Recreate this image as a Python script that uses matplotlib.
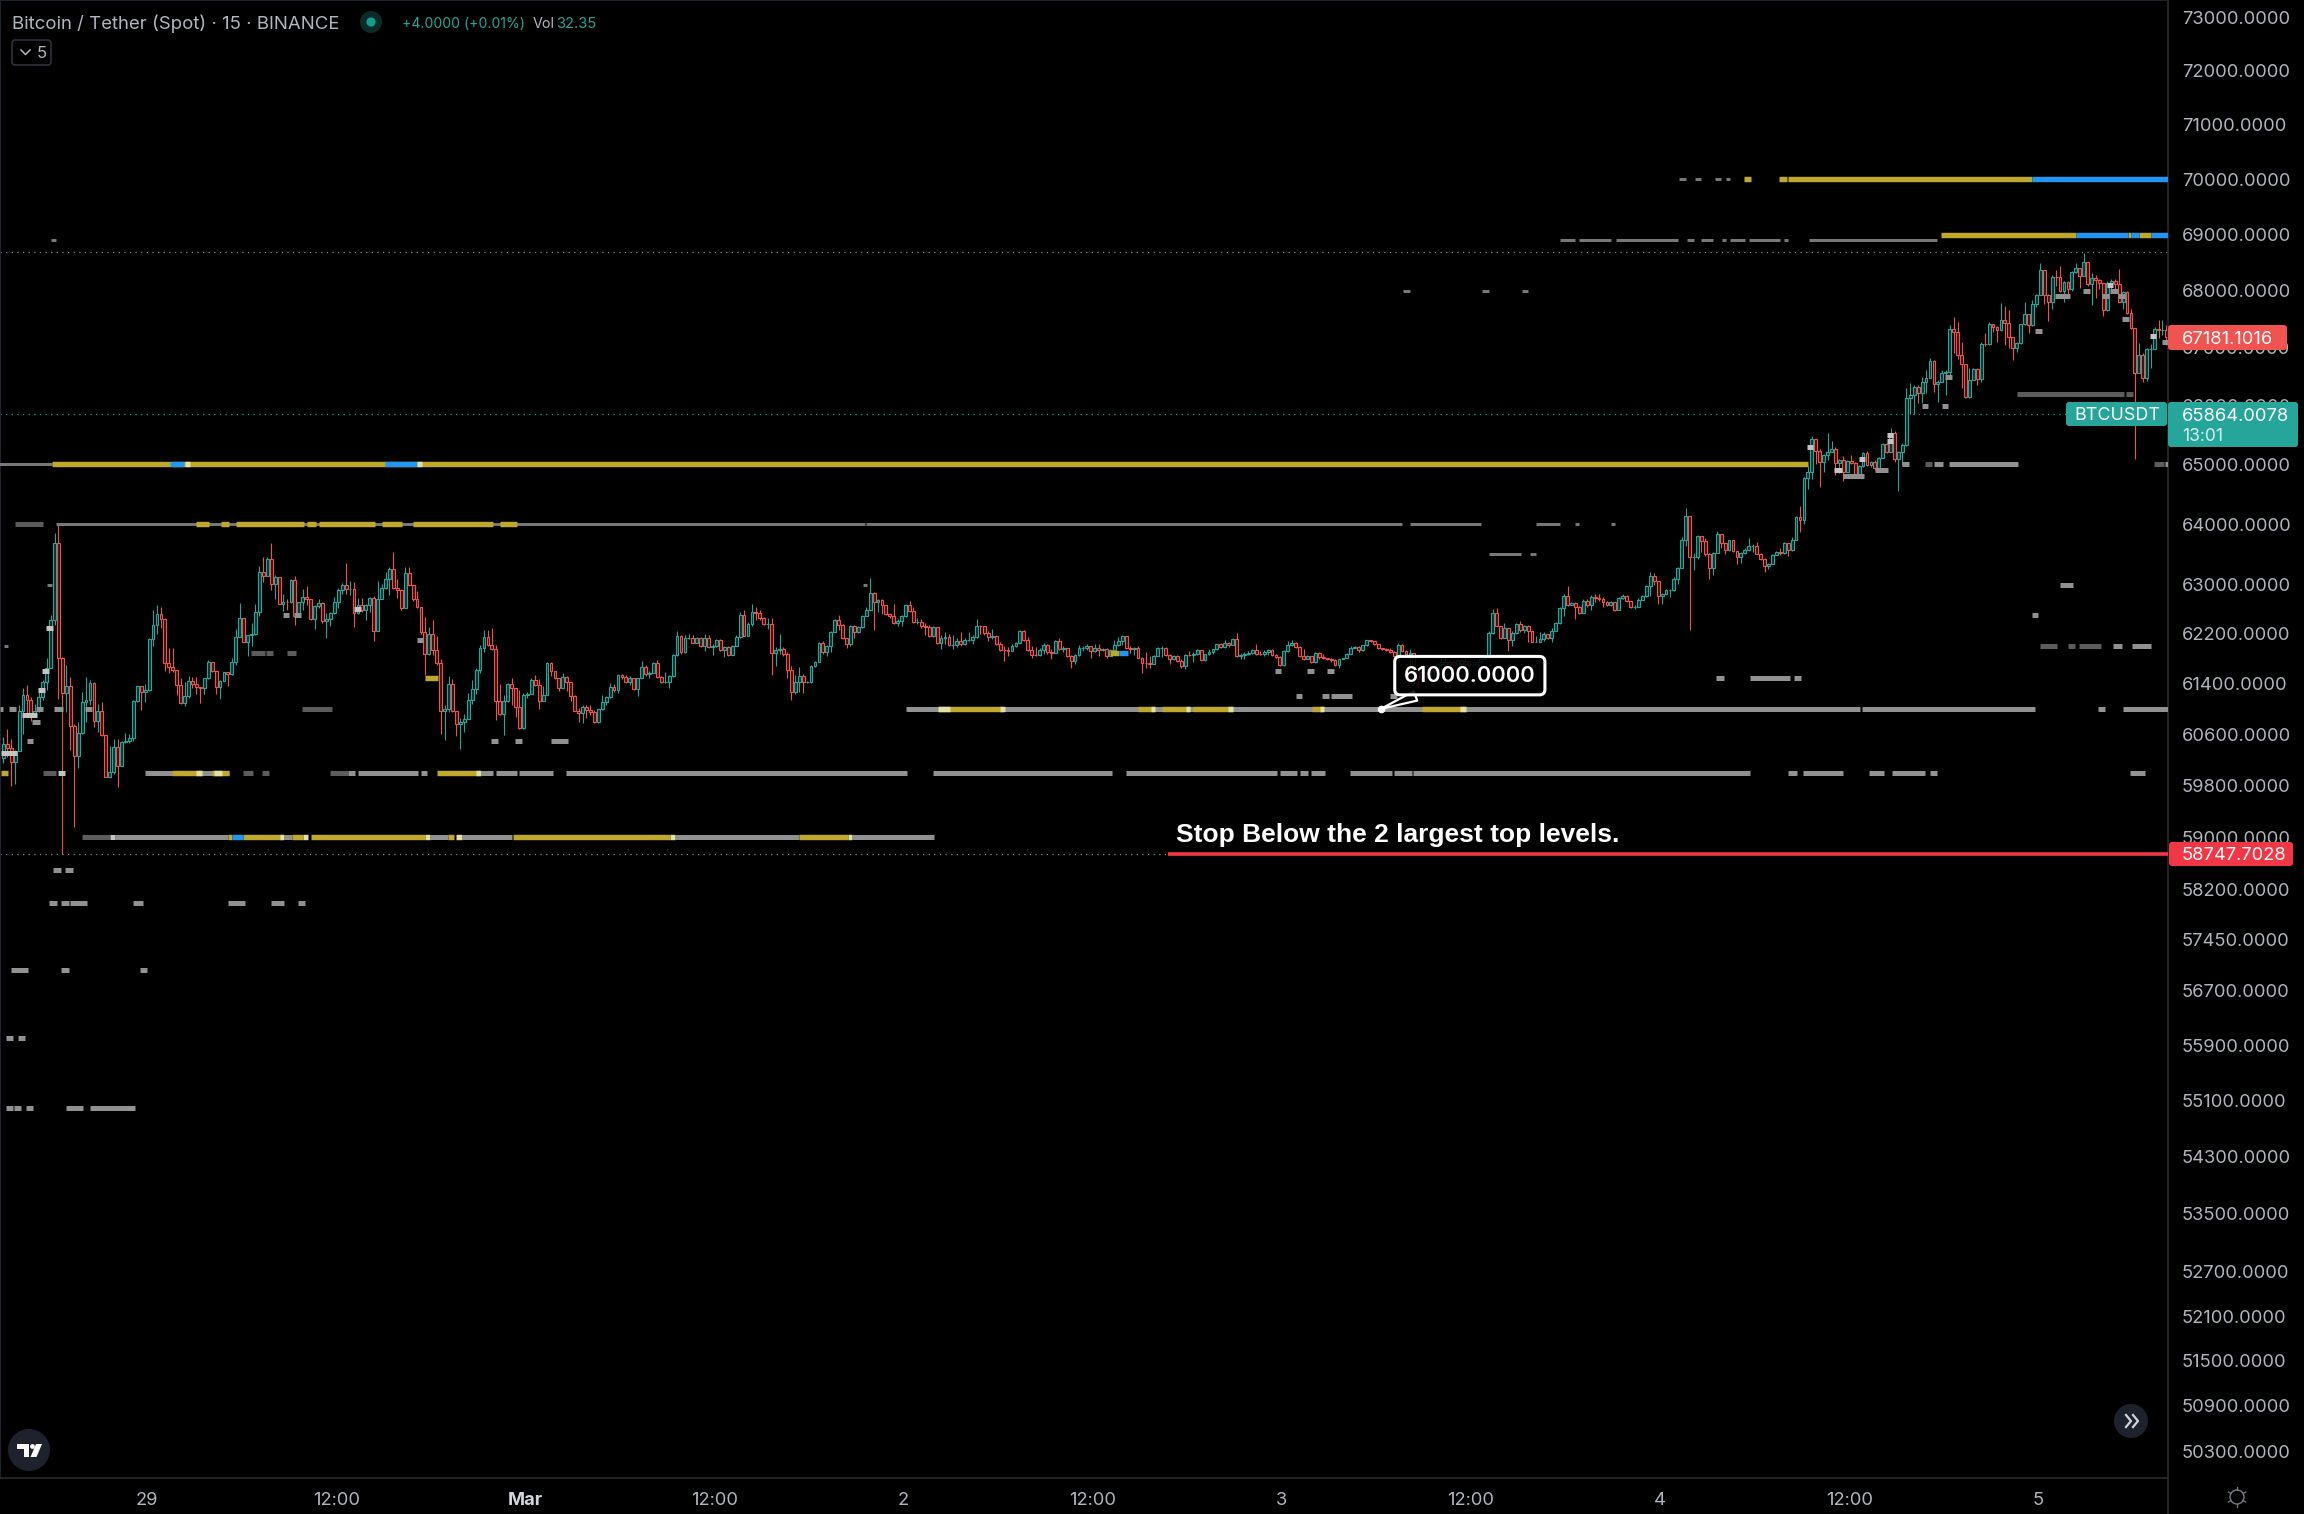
import matplotlib
matplotlib.use("Agg")
import matplotlib.pyplot as plt
from matplotlib.patches import FancyBboxPatch, Circle, Polygon, Rectangle
from matplotlib.lines import Line2D
import numpy as np

W, H = 2304, 1514
first_open = 60225
closes_a = [60440,60385,60170,60330,60975,61218,61137,60885,60975,61191,61422,61647,62426,63688,61819,61255,61368,60735,60251,60616,61110,61137,61406,60804,60960,60584,59929,60010,60402,60101,60482,60493,60547,61127,61363,61272,61298,62115,62346,62528,62442,61733,61669,61626,61379,61100,61202,61443,61400,61341,61325,61486,61755,61610,61352,61443,61583,61551,61744,62158,62464,62077,62184,62195,62550,63205,63151,63430,63017,63124,62678,62721,62711,63081,62496,62711,62797,62764,62437,62652,62705,62415,62442,62533,62711,62909,63001,62925,62936,62533,62668,62587,62668,62786,62249,62775,62947,63097,63258,62952,62909,62614,63189,63001,62775,62641,62238,61878,62195,61948,61728,60975,60992,61395,60975,60761,60799,60842,61148,61315,61621,61970,62158,62023,61959,61121,60923,61121,61390,61336,61030,60692]
highs_a = [60560,60680,60520,60360,61060,61325,61380,61190,61085,61325,61460,61810,62505,63860,63985,61835,61700,61515,60760,60790,61270,61515,61460,61435,61085,61110,60585,60410,60520,60520,60495,60615,60600,61135,61380,61365,61390,62130,62590,62670,62630,62455,61980,61970,61625,61485,61435,61525,61515,61515,61340,61500,61780,61755,61610,61460,61595,61585,61810,62280,62695,62465,62185,62370,62680,63300,63460,63455,63690,63160,63125,62855,62775,63095,63140,62710,62935,62980,62765,62670,62775,62720,62535,62560,62800,62945,63035,63350,63055,63045,62785,62785,62685,62800,62820,63055,63015,63205,63285,63540,63095,62935,63285,63295,63000,62895,62640,62480,62320,62425,62160,61800,61055,61525,61475,60975,60850,60920,61260,61460,61660,62025,62265,62265,62300,62025,61390,61215,61420,61500,61335,61300]
lows_a = [60145,60250,59795,59820,60360,60600,60895,60815,60870,60950,61135,61300,61675,62345,61165,58748,60950,60360,59150,60065,60600,60790,61055,60710,60630,60575,59930,59920,59985,59780,60100,60465,60465,60495,61110,60985,61110,61290,62000,62195,62290,61605,61565,61595,61215,61085,61040,61175,61325,61245,61100,61245,61475,61595,61245,61165,61445,61370,61540,61700,62160,62075,61845,62000,62185,62495,63045,63150,62910,62765,62680,62570,62590,62695,62345,62480,62590,62670,62425,62280,62615,62370,62140,62335,62515,62615,62855,62855,62830,62320,62515,62560,62425,62560,62090,62240,62765,62935,62840,62935,62785,62590,62615,62980,62730,62625,62195,61540,61860,61860,61700,60600,60510,60950,60950,60575,60370,60630,60840,61085,61245,61565,61915,62000,61945,60830,60905,60585,61110,61055,60870,60680]
closes_b = [61217,61244,61464,61378,61131,61228,61732,61598,61491,61340,61507,61421,61206,60970,60938,61029,60981,60948,60793,61002,61110,61185,61356,61297,61539,61507,61421,61485,61314,61485,61673,61555,61566,61732,61501,61421,61432,61518,61861,62162,61915,62130,62140,62055,62135,62001,62135,61985,62001,62103,61947,61995,61867,62001,62146,62506,62173,62361,62549,62538,62452,62361,62361,61893,61947,61958,61883,61625,61271,61432,61528,61421,61432,61679,61754,62049,61904,62012,62237,62425,62345,62130,62038,62334,62226,62307,62495,62592,62860,62726,62753,62667,62522,62495,62377,62414,62484,62667,62565,62388,62388,62323,62307,62173,62318,62049,62135,62157,62028,62028,62081,62038,62103,62108,62146,62334,62323,62216,62157,62173,62038,61947,61942,61931,62012,62055,62253,62108,61947,61867,61861,61947]
highs_b = [61260,61270,61500,61540,61475,61370,61755,61755,61610,61500,61565,61520,61430,61215,61020,61055,61055,61070,60980,61000,61220,61205,61410,61395,61555,61555,61540,61520,61500,61500,61770,61700,61610,61745,61785,61530,61595,61540,61880,62255,62175,62175,62200,62175,62145,62145,62200,62175,62040,62120,62120,62010,62010,62020,62175,62550,62585,62390,62680,62630,62590,62480,62450,62460,61985,62200,61985,61905,61680,61540,61665,61555,61450,61700,61770,62065,62090,62020,62255,62440,62505,62360,62140,62345,62345,62325,62505,62630,63110,62885,62775,62765,62665,62540,62680,62440,62505,62680,62735,62630,62450,62440,62370,62350,62335,62320,62175,62225,62200,62175,62130,62225,62130,62225,62175,62440,62345,62325,62255,62280,62185,62065,62010,61985,62030,62065,62265,62265,62155,62010,61985,61970]
lows_b = [60680,61180,61235,61370,61005,61120,61215,61530,61475,61285,61325,61285,61125,60965,60800,60785,60855,60910,60775,60785,60990,61070,61175,61270,61250,61475,61405,61385,61305,61205,61485,61530,61485,61565,61485,61405,61410,61330,61510,61850,61880,61895,62120,62050,62055,61985,61930,61975,61865,61985,61930,61835,61850,61865,62000,62135,62160,62215,62335,62425,62425,62345,62280,61540,61680,61880,61850,61500,61140,61245,61270,61260,61410,61420,61675,61755,61880,61840,61915,62225,62270,62120,61975,62010,62135,62210,62300,62485,62580,62270,62560,62520,62505,62450,62360,62335,62325,62470,62550,62375,62355,62290,62185,62150,62145,62040,61960,62040,62010,61960,61985,62000,62020,62090,62040,62135,62200,62175,62090,62120,62020,61930,61770,61840,61920,61985,62050,62090,61930,61810,61840,61850]
closes_c = [62015,61908,61897,62079,61961,61972,61843,61768,61865,61972,61972,62004,61918,61972,61940,61961,61838,61934,62015,62079,62165,61972,61950,61972,61816,61736,61730,61720,61843,61972,61972,61865,61789,61843,61757,61682,61865,61854,61881,61945,61773,61870,61908,61950,62031,61988,62058,62026,62122,61838,61865,61881,61897,61934,61881,61870,61908,61940,61865,61827,61693,61918,62026,62058,61993,61838,61789,61838,61746,61897,61822,61811,61800,61773,61703,61789,61811,61881,61977,61988,61945,62015,62106,62085,62042,61972,61961,61945,61908,61843,62015,61918,61881,61897,61639,61478,61585,61532,61639,61612,61720,61746,61693,61746,61720,61773,61720,61757,61693,61703,61746,61800,61838]
highs_c = [62060,62040,61960,62095,62140,62005,61970,61865,61880,62025,62000,62040,62005,62040,62040,61970,61970,61960,62095,62150,62185,62080,62005,61990,62005,61825,61905,61845,61855,61990,62000,61990,61880,61865,61865,61790,61880,61920,61905,61960,61945,61880,61960,61960,62040,62060,62095,62070,62135,62215,61890,61905,61920,61950,62040,61925,61935,61960,61960,61880,61845,61935,62080,62095,62070,62005,61960,61865,61845,61905,61905,61875,61820,61810,61800,61800,61820,61890,62005,62005,62005,62025,62110,62110,62085,62040,61980,61970,61970,61920,62060,62040,61945,61960,61895,61640,61640,61585,61665,61690,61745,61845,61865,61775,61775,61800,61790,61800,61775,61745,61770,61810,61855]
lows_c = [61880,61880,61790,61905,61945,61905,61825,61660,61720,61845,61925,61945,61815,61905,61845,61920,61820,61840,61920,62005,62025,61960,61895,61865,61810,61575,61655,61655,61720,61845,61825,61845,61720,61775,61745,61660,61640,61840,61755,61865,61760,61760,61865,61880,61945,61975,61975,61990,62015,61825,61790,61800,61865,61880,61865,61855,61845,61855,61845,61815,61680,61690,61905,62005,61970,61825,61775,61790,61730,61730,61800,61800,61775,61755,61680,61660,61790,61810,61880,61970,61905,61930,62005,62070,62025,61960,61935,61920,61895,61810,61825,61905,61865,61665,61400,61330,61425,61415,61480,61530,61585,61640,61640,61665,61640,61665,61640,61665,61665,61665,61680,61735,61790]
closes_d = [62214,62547,62336,62142,62297,62103,62208,62364,62269,62325,62242,62075,62075,62119,62203,62130,62253,62369,62619,62824,62674,62697,62641,62541,62741,62674,62797,62785,62769,62713,62669,62713,62591,62780,62808,62741,62630,62641,62758,62808,62980,63141,63063,62813,62841,62908,62908,63102,63279,63740,64128,63451,63451,63807,63712,63507,63268,63529,63834,63685,63574,63729,63562,63451,63518,63574,63629,63629,63507,63418,63313,63340,63490,63535,63518,63685,63574,63740,64117,64073,64778,64878,65433,65227,65044,65155,65211,65266,65028,65083,64878,65061,65028,64822,64972,65200,64989,65044,64933,65116,65350,65211,65527,65100,65211,65322]
highs_d = [62240,62600,62615,62335,62380,62295,62240,62380,62410,62340,62340,62240,62160,62225,62225,62200,62295,62390,62630,62850,62975,62725,62715,62660,62770,62770,62840,62850,62850,62795,62740,62740,62715,62795,62850,62825,62740,62675,62780,62825,62990,63215,63195,63065,62865,62935,62935,63120,63295,63785,64265,64130,63520,63825,63805,63770,63520,63545,63880,63835,63685,63740,63740,63560,63545,63600,63770,63675,63695,63520,63435,63350,63500,63555,63600,63695,63685,63785,64130,64295,64795,64970,65490,65433,65265,65183,65527,65405,65294,65100,65140,65072,65155,65044,64989,65211,65227,65055,65083,65127,65360,65360,65616,65560,65227,65360]
lows_d = [61786,62197,62325,62120,62142,61920,62008,62203,62230,62214,62075,62064,62064,62075,62086,62120,62064,62242,62364,62491,62658,62669,62436,62519,62541,62641,62586,62713,62741,62630,62647,62658,62575,62591,62769,62724,62613,62602,62641,62758,62796,62813,62991,62685,62685,62841,62796,62896,63018,63268,63629,62269,63240,63418,63546,63474,63091,63157,63518,63601,63501,63562,63546,63340,63352,63507,63562,63535,63501,63407,63202,63252,63335,63490,63490,63507,63479,63562,63729,63862,64006,64589,64750,65005,64628,64878,65072,65227,64822,64850,64728,64950,65005,64806,64822,64961,64972,64961,64905,64894,65111,65194,65239,65044,64545,64989]
closes_e = [66135,66181,66325,66210,66412,66470,66775,66371,66412,66556,66585,67335,67277,66874,66712,66152,66441,66631,66458,67064,67058,67410,67364,67306,67479,67439,67179,66989,67075,67410,67583,67393,67768,67924,68362,67929,67808,68247,68241,68000,68160,68027,68333,68403,68258,68501,68126,68229,68189,68131,67652,68143,68172,68114,67808,67981,67612,67347,66568,66874,66481,66977,66977,67324,67306,67306,67181]
highs_e = [66296,66395,66354,66354,66500,66614,66816,66787,66441,66614,66614,67393,67537,67450,67093,66712,66643,66643,66643,67093,67266,67450,67422,67381,67785,67727,67652,67179,67093,67422,67808,67595,67843,67941,68489,68374,67941,68270,68374,68431,68172,68172,68345,68489,68403,68674,68501,68316,68287,68200,68143,68172,68200,68200,68385,68000,68000,67670,67347,67075,66902,66989,67058,67364,67479,67479,67404]
lows_e = [65304,65864,65864,66037,66037,66210,66470,66239,66054,66400,66181,66516,66902,66804,66296,66135,66123,66441,66354,66400,67035,67047,67277,67104,67289,67047,66989,66787,66931,67058,67393,67266,67381,67710,67924,67768,67462,67681,68085,67981,67797,67883,68000,68316,68056,68258,68085,67756,67866,68027,67554,67635,68027,68000,67797,67681,67595,67324,65096,66556,66400,66423,66643,66977,67162,67219,67047]

# (price, first bar, last bar)
thin_grey = [(64000,13.4,218.7),(64000,219,355),(64000,357,375),(64000,389,395),(64000,399,400),(64000,408,409),
 (65000,-1,12.4),(70000,425.3,427),(70000,429.3,431),(70000,434.4,436),(70000,437.2,438.2),
 (68900,12,13.4),(68900,395,398.9),(68900,400,408),(68900,409.3,425),(68900,427.3,429),(68900,431,433.9),(68900,436.2,437.2),(68900,438.2,442),(68900,443,450.9),(68900,452,453),(68900,458.3,490.8),
 (68000,355.2,357),(68000,375.3,377),(68000,385.4,387),(63500,377.1,385.2),(63500,387.5,389),(63000,218.2,219.2),(63000,11.1,12.4),(62000,0.2,1.2)]
dark_grey = [(64000,3,10),(66200,511,538.2),(66200,538.7,540.5),(65000,487.7,489.5),(65000,545.8,548.4),
 (61000,75.8,83.4),(60000,10,13.4),(60000,60.8,63.4),(60000,65.6,67.4),(60000,83,87.5),(59000,20,27),
 (61900,62.9,66.4),(61900,66.7,68.4),(61900,72,74.3),(62000,517,521.2),(62000,524,525.8),(62000,526.8,532.4)]
block_grey = [(65000,481.9,483.6),(65000,490,492.3),(65000,493.8,511.3),(65000,548.6,550),
 (61000,229,471.2),(61000,471.7,515.6),(61000,531.6,533.4),(61000,538,550),
 (61000,-0.8,0),(61000,1.4,3.2),(61000,8.3,10),(61000,12.8,15.1),(61000,20.7,22.5),
 (60000,36,57.3),(60000,87.5,89.2),(60000,90,105.2),(60000,106,107.5),(60000,121.2,124.3),(60000,125,130.4),(60000,130.9,139.5),(60000,142.8,229.3),(60000,236,281.4),(60000,284.9,323.3),(60000,324,328.3),(60000,329,331.1),(60000,331.9,335.4),(60000,341.8,352.4),(60000,353,357.5),(60000,357.8,443.3),(60000,452.9,455.2),(60000,456.7,466.9),(60000,473.5,477.3),(60000,479.3,487.7),(60000,489,490.8),(60000,539.7,543.6),
 (59000,28.3,57),(59000,71.2,73.3),(59000,108.3,112.9),(59000,116.4,129),(59000,170.5,201.9),(59000,215.4,236.2),
 (58500,12.6,14.6),(58500,15.6,17.7),(58000,11.6,13.6),(58000,14.6,16.7),(58000,17,21.2),(58000,32.9,35.4),(58000,57,61.3),(58000,68,71.2),(58000,74.8,76.5),
 (57000,2,6.3),(57000,14.6,16.7),(57000,34.7,36.5),(56000,0.7,2.5),(56000,3.7,5.5),(55000,0.7,2.5),(55000,2.7,4.5),(55000,5.8,7.5),(55000,15.9,20.2),(55000,22,33.4),
 (62500,71,72.5),(62500,73.8,75.5),(62100,105,106.5),(60500,6,7.5),(60500,123.8,125.5),(60500,129.9,131.6),(60500,139,143.3),(60800,7.3,9.3),
 (61600,322.7,324.4),(61600,330.9,332.6),(61600,335.9,337.7),(61200,328,329.7),(61200,334.7,336.5),(61200,337,342.3),(61200,352,353.7),(61200,356.8,358.5),
 (61500,434.7,436.7),(61500,443.3,453.5),(61500,454.5,456.3),(64800,467,472.2),(64900,475,478.3),(66000,487,488.5),(66000,492,493.6),(66500,492.8,494.6),
 (67300,515.6,517.4),(67900,520.7,524.5),(68000,527.8,529.6),(67900,532.7,534.4),(68000,534.8,536.6),(67900,536.7,538.4),(67500,537.7,539.5),(67100,548,550),
 (63000,522,525.3),(62500,514.9,516.4),(62000,535.4,537.7),(62000,540.2,545)]
pale_level = [(65000,46,47.4),(65000,105,106.2),(61000,237.2,240.3),(61000,253,254.2),(61000,291.3,292.3),(61000,300.2,301.2),(61000,310.7,312),(61000,334.2,335.2),(61000,369.7,371.2),
 (60000,49,50.4),(60000,53.5,55.5),(60000,120,121.2),(59000,70.2,71.2),(59000,76,77.3),(59000,107,108.3),(59000,115,116.4),(59000,169.2,170.5),(59000,214.4,215.4)]
pale_marker = [(60000,13.9,15.6),(59000,27,28.3),(60300,-0.6,3.5),(60900,4.7,8.5),(61300,8.8,10.6),(61600,9.8,11.6),(62300,10.8,12.6),(62600,89,90.8),(65300,457.8,459.3),(64900,464.6,466.7),(65100,471,472.5),(65500,478.1,479.6),(65400,478.1,479.6),(68100,534,535.5),(67200,544.8,546.3)]
yellow = [(64000,49,52.2),(64000,55.2,57.3),(64000,59,76.3),(64000,77,79.3),(64000,80,94.3),(64000,96,101.2),(64000,104,124.3),(64000,126,130.4),
 (65000,12.4,458),(70000,441.8,443.6),(70000,450.7,452.7),(70000,452.9,514.9),(69000,491.8,526),(69000,539.3,540),(69000,542,545),
 (61000,237.2,253.7),(61000,288,292.3),(61000,294,301.2),(61000,302,312),(61000,332.1,335.2),(61000,360,371.2),
 (60000,-0.6,1.2),(60000,42.8,50.4),(60000,53,57.3),(60000,110,121),
 (59000,57,58),(59000,60.8,70.7),(59000,73.3,76),(59000,78,107),(59000,112.9,114.4),(59000,129.3,169.2),(59000,201.9,214.4),
 (61500,107,110.3),(61900,280.9,283.2)]
blue = [(65000,42.3,45.8),(65000,96.8,105),(70000,514.9,550),(69000,526,539.3),(69000,540,542),(69000,545,550),(59000,58,60.8),(61900,283.2,285.5)]
price_ticks = [73000,72000,71000,70000,69000,68000,67000,66000,65000,64000,63000,62200,61400,60600,59800,59000,58200,57450,56700,55900,55100,54300,53500,52700,52100,51500,50900,50300]
time_ticks = [36.5,84.5,132.5,180.5,228.5,276.5,324.5,372.5,420.5,468.5,516.5]
time_labels = ["29","12:00","Mar","12:00","2","12:00","3","12:00","4","12:00","5"]
stop_price = 58747.7028
last_price = 67181.1016
spot_price = 65864.0078
high_line = 68680
stop_start = 295.6
level_callout = 61000
callout_bar = 349.6

closes = closes_a+closes_b+closes_c+closes_d+closes_e
highs = highs_a+highs_b+highs_c+highs_d+highs_e
lows = lows_a+lows_b+lows_c+lows_d+lows_e
c = np.array(closes, float)
o = np.r_[first_open, c[:-1]]
h = np.maximum.reduce([np.array(highs, float), o, c])
l = np.minimum.reduce([np.array(lows, float), o, c])
x = np.arange(len(c))

plt.rcParams['font.family'] = ['Inter', 'DejaVu Sans']
BG = '#000000'
GREEN, RED = '#26a69a', '#ef5350'
TXT = '#b2b5be'
fig = plt.figure(figsize=(W/100, H/100), dpi=100, facecolor=BG)
ax = fig.add_axes([0, 1-1478/H, 2168/W, 1478/H], facecolor=BG)
ax.set_yscale('log')
ax.set_xlim(-0.845, 549.4)
ax.set_ylim(49954, 73334)

up = c >= o
cols = np.where(up, GREEN, RED)
ax.vlines(x, l, h, colors=cols, linewidth=0.8, zorder=2)
fills = np.where(up, '#06302c', '#3a0f10')
ax.bar(x, np.maximum(np.abs(c-o), 1), bottom=np.minimum(o, c), width=0.72, color=fills, edgecolor=cols, linewidth=0.8, zorder=2.2)

def draw(segs, color, px, z=3, alpha=1):
    for p, s, e in segs:
        ax.plot([s, e], [p, p], color=color, lw=px*0.72, solid_capstyle='butt', zorder=z, alpha=alpha)

draw(thin_grey, '#777777', 3)
draw(dark_grey, '#5c5c5c', 5, z=3.1)
draw(block_grey, '#919191', 5, z=3.1)
draw(yellow, '#bfa92a', 5.4, z=3.2)
draw(blue, '#2196f3', 5.4, z=3.3)
draw(pale_level, '#e2dfa8', 5.4, z=3.4)
draw(pale_marker, '#c4c4c4', 5, z=3.4)

for p, col in ((high_line, '#8a8f98'), (stop_price, '#8a8f98'), (spot_price, GREEN)):
    ax.axhline(p, color=col, lw=0.9, ls=(0, (1, 3.5)), zorder=1.5)
ax.plot([stop_start, 550], [stop_price, stop_price], color='#f23645', lw=2.6, solid_capstyle='butt', zorder=4)
ax.text(297.6, 59040, "Stop Below the 2 largest top levels.", color='white', fontsize=19, fontweight='bold', family=['Liberation Sans'], va='center', ha='left', zorder=5)

ax.annotate("61000.0000", xy=(callout_bar, level_callout), xytext=(372.2, 61530), color='white', fontsize=15.8, fontweight='semibold',
            ha='center', va='center', zorder=6,
            bbox=dict(boxstyle='round,pad=0.42,rounding_size=0.25', fc=(0, 0, 0, 0.86), ec='white', lw=2.2),
            arrowprops=dict(arrowstyle='wedge,tail_width=0.45', fc='black', ec='white', lw=1.6, shrinkA=0, shrinkB=0))
ax.plot([callout_bar], [level_callout], 'o', ms=4.5, mfc='white', mec='white', zorder=7)

ax.yaxis.tick_right()
ax.set_yticks(price_ticks)
ax.set_yticklabels([f"{t:.4f}" for t in price_ticks])
ax.minorticks_off()
ax.tick_params(axis='y', which='both', length=0, pad=10, colors=TXT, labelsize=13.2)
ax.set_xticks(time_ticks)
ax.set_xticklabels(time_labels)
ax.tick_params(axis='x', which='both', length=0, pad=10, colors=TXT, labelsize=13.2)
lab = ax.get_xticklabels()[2]
lab.set_fontweight('bold')
lab.set_color('#d1d4dc')
for s in ('top', 'left'):
    ax.spines[s].set_color('#1e222d')
    ax.spines[s].set_linewidth(1.5)
for s in ('right', 'bottom'):
    ax.spines[s].set_color('#2a2a2c')
    ax.spines[s].set_linewidth(1.2)
fig.add_artist(Line2D([2168/W, 2168/W], [0, 1-1478/H], color='#2a2a2c', lw=1.2))

# overlay furniture, in pixel positions of the figure
def fx(v): return v/W
def fy(v): return 1-v/H
def tag(x0, y0, x1, y1, col, r=3):
    fig.add_artist(FancyBboxPatch((x0, H-y1), x1-x0, y1-y0, boxstyle=f"round,pad=0,rounding_size={r}", fc=col, ec='none', transform=None, zorder=8))
def ftext(xp, yp, s, col=TXT, size=13.2, **kw):
    fig.text(fx(xp), fy(yp), s, color=col, fontsize=size, va='center', zorder=9, **kw)

tag(2168, 325, 2287, 350, '#f05350')
ftext(2182, 339.5, "67181.1016", 'white')
tag(2066, 402, 2167, 426, GREEN)
ftext(2074, 416, "BTCUSDT", 'white', 12.9)
tag(2168, 402, 2298, 447, GREEN)
ftext(2182, 416.5, "65864.0078", 'white')
ftext(2182, 436, "13:01", '#d5efec', 12.6)
tag(2169, 842, 2293, 866, '#f23645')
ftext(2182, 855.5, "58747.7028", 'white')

ftext(12, 23.5, "Bitcoin / Tether (Spot) · 15 · BINANCE", TXT, 13.4)
fig.add_artist(Circle((371, H-22), 11, fc='#0b2b28', ec='none', transform=None))
fig.add_artist(Circle((371, H-22), 4.6, fc='#10a08c', ec='none', transform=None))
ftext(402, 24.5, "+4.0000 (+0.01%)", GREEN, 10.1)
ftext(533, 24.5, "Vol", TXT, 10.3)
ftext(556, 24.5, "32.35", GREEN, 10.6)
fig.add_artist(FancyBboxPatch((12, H-65), 39, 25, boxstyle="round,pad=0,rounding_size=3", fc='none', ec='#363a45', lw=1, transform=None))
fig.add_artist(Line2D([fx(21), fx(25.5), fx(30)], [fy(50), fy(54.5), fy(50)], color=TXT, lw=1.1))
ftext(37, 53, "5", TXT, 12)

fig.add_artist(Circle((29, H-1450), 21, fc='#1e222d', ec='none', transform=None))
fig.add_artist(Polygon([(17/W, 1-1444/H), (29/W, 1-1444/H), (29/W, 1-1457/H), (23.5/W, 1-1457/H), (23.5/W, 1-1449/H), (17/W, 1-1449/H)], closed=True, fc='white', ec='none', transform=fig.transFigure))
fig.add_artist(Circle((32.5, H-1446.5), 2.4, fc='white', ec='none', transform=None))
fig.add_artist(Polygon([(36/W, 1-1444/H), (42/W, 1-1444/H), (36.5/W, 1-1457/H), (30.5/W, 1-1457/H)], closed=True, fc='white', ec='none', transform=fig.transFigure))
fig.add_artist(Circle((2131, H-1421), 17, fc='#1e222d', ec='none', transform=None))
for off in (0, 7):
    fig.add_artist(Line2D([fx(2126+off), fx(2131+off), fx(2126+off)], [fy(1415), fy(1421), fy(1427)], color='#d1d4dc', lw=1.6))
fig.add_artist(Circle((2237, H-1497), 7, fc='none', ec='#787b86', lw=1, transform=None))
for a in np.arange(0, 360, 60):
    r0, r1 = 7, 10
    ca, sa = np.cos(np.radians(a+30)), np.sin(np.radians(a+30))
    fig.add_artist(Line2D([fx(2237+r0*ca), fx(2237+r1*ca)], [fy(1497+r0*sa), fy(1497+r1*sa)], color='#787b86', lw=0.9))

fig.savefig("out.png", dpi=100, facecolor=BG)
